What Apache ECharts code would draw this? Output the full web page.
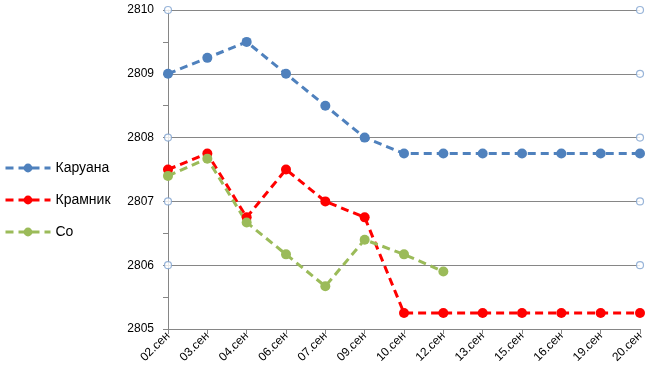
<!DOCTYPE html>
<html><head><meta charset="utf-8">
<script src="https://cdn.jsdelivr.net/npm/echarts@6/dist/echarts.min.js"></script>
<style>html,body{margin:0;padding:0;background:#fff}#c{width:654px;height:388px}</style>
</head><body><div id="c"></div>
<script>
var categories = ['02.сен','03.сен','04.сен','06.сен','07.сен','09.сен','10.сен','12.сен','13.сен','15.сен','16.сен','19.сен','20.сен'];
var caruana = [2809, 2809.25, 2809.5, 2809, 2808.5, 2808, 2807.75, 2807.75, 2807.75, 2807.75, 2807.75, 2807.75, 2807.75];
var kramnik = [2807.5, 2807.75, 2806.75, 2807.5, 2807, 2806.75, 2805.25, 2805.25, 2805.25, 2805.25, 2805.25, 2805.25, 2805.25];
var so = [2807.4, 2807.67, 2806.67, 2806.17, 2805.67, 2806.4, 2806.17, 2805.9, null, null, null, null, null];
var gridMarkerValues = [2806, 2807, 2808, 2809, 2810];
var gridMarkerCats = ['02.сен', '20.сен'];
var seriesNames = ['Каруана', 'Крамник', 'Со'];
var yMin = 2805, yMax = 2810, yStep = 1;

var markerData = [];
gridMarkerCats.forEach(function(c){ gridMarkerValues.forEach(function(v){ markerData.push([c, v]); }); });

function lineSeries(name, data, color){
  return {
    name: name, type: 'line', data: data, symbol: 'circle', symbolSize: 10,
    itemStyle: {color: color},
    lineStyle: {color: color, width: 3, type: [8, 5]},
    connectNulls: false, z: 3
  };
}
var chart = echarts.init(document.getElementById('c'));
chart.setOption({
  animation: false,
  textStyle: {fontFamily: 'Liberation Sans'},
  grid: {left: 168, right: 14, top: 10, bottom: 59},
  legend: {
    orient: 'vertical', left: 4, top: 161, itemGap: 18, padding: 0,
    itemWidth: 45, itemHeight: 11,
    data: seriesNames,
    lineStyle: {width: 3, type: [8, 5]},
    textStyle: {fontSize: 14, color: '#000', fontFamily: 'Liberation Sans'}
  },
  xAxis: {
    type: 'category', data: categories, boundaryGap: false,
    axisLine: {lineStyle: {color: '#868686', width: 1}},
    axisTick: {show: true, alignWithLabel: true, length: 5, lineStyle: {color: '#868686'}},
    axisLabel: {rotate: 45, fontSize: 12, color: '#000', margin: 5, interval: 0},
    splitLine: {show: false}
  },
  yAxis: {
    type: 'value', min: yMin, max: yMax, interval: yStep,
    axisLine: {show: true, lineStyle: {color: '#868686'}},
    axisTick: {show: true, length: 5, lineStyle: {color: '#868686'}},
    minorTick: {show: true, splitNumber: 2, length: 5, lineStyle: {color: '#868686'}},
    axisLabel: {fontSize: 12, color: '#000', margin: 14, formatter: function(v){ return String(v); }},
    splitLine: {show: true, lineStyle: {color: '#868686', width: 1}}
  },
  series: [
    lineSeries(seriesNames[0], caruana, '#4F81BD'),
    lineSeries(seriesNames[1], kramnik, '#FF0000'),
    lineSeries(seriesNames[2], so, '#9BBB59'),
    {
      name: 'grid', type: 'scatter', data: markerData, symbol: 'circle', symbolSize: 7,
      itemStyle: {color: '#fff', borderColor: '#7FA3CF', borderWidth: 1.2}, z: 2, silent: true
    }
  ]
});
</script></body></html>
